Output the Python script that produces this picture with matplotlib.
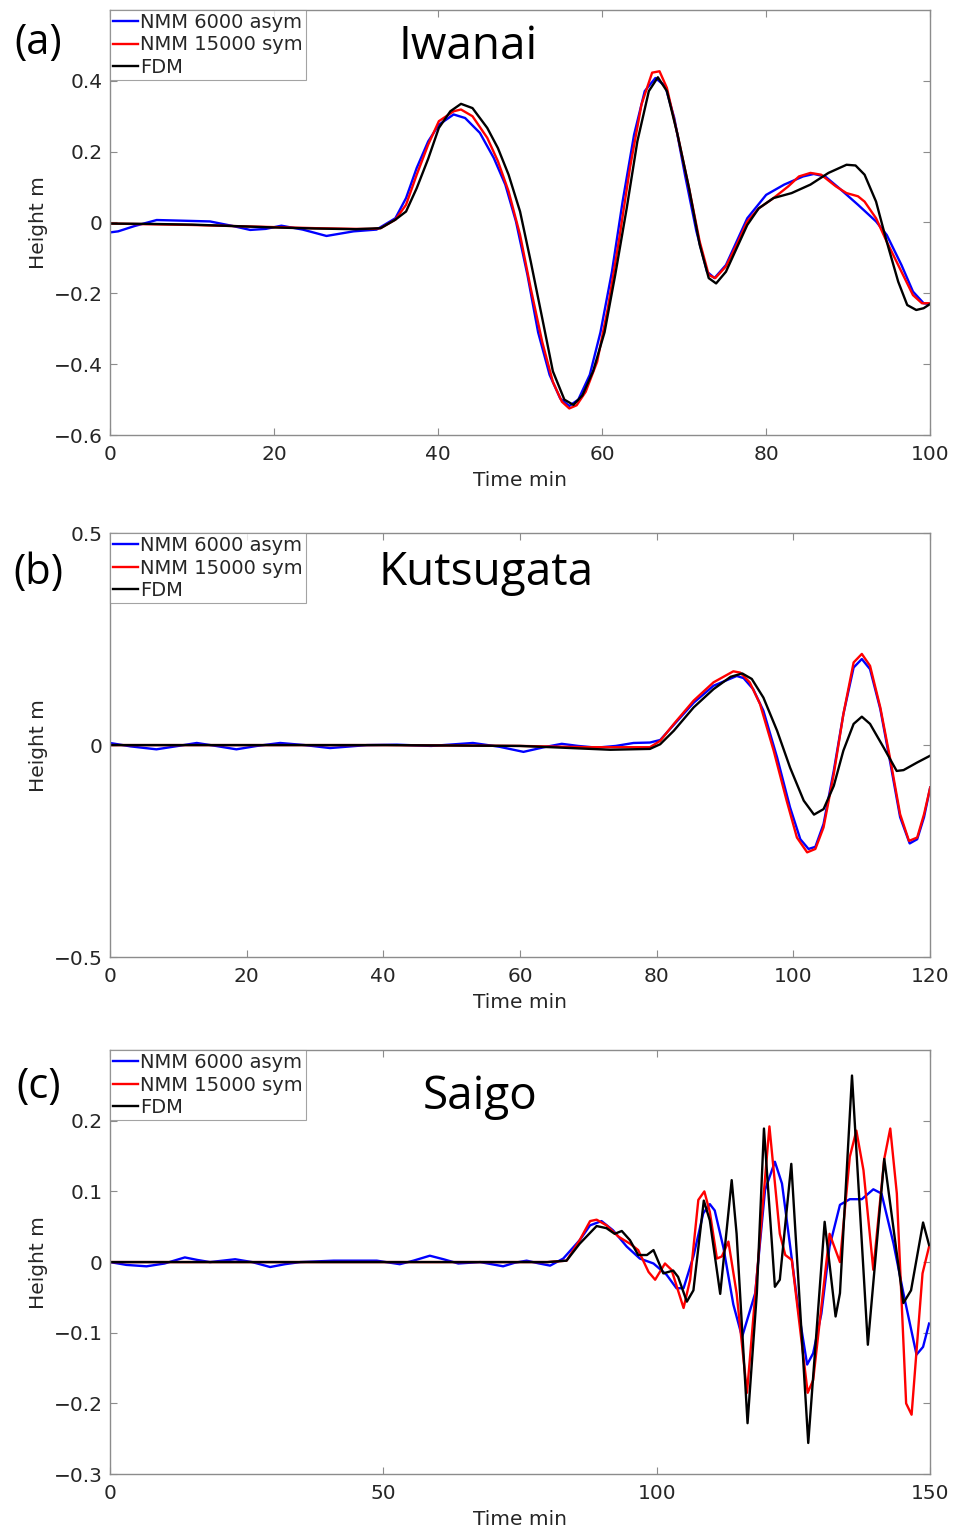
import numpy as np
import matplotlib
matplotlib.use("Agg")
import matplotlib.pyplot as plt

# ---- data (time min, height m) ----
labels = ["NMM 6000 asym", "NMM 15000 sym", "FDM"]
colors = ["#0000ff", "#ff0000", "#000000"]

# (a) Iwanai
a_blue = [(0, -0.028), (1, -0.025), (3, -0.01), (5.7, 0.007), (9, 0.005), (12.2, 0.003), (15, -0.01),
          (17.1, -0.021), (19, -0.018), (20.9, -0.009), (23.5, -0.02), (26.4, -0.038), (29.7, -0.025),
          (32.5, -0.02), (34.8, 0.012), (36.1, 0.069), (37.4, 0.154), (38.8, 0.229), (40.1, 0.276),
          (41.9, 0.305), (43.3, 0.295), (45.1, 0.253), (46.8, 0.182), (48.2, 0.107), (49.5, 0.003),
          (50.9, -0.148), (52.2, -0.31), (53.6, -0.43), (54.9, -0.497), (56, -0.518), (57.1, -0.5),
          (58.5, -0.43), (59.8, -0.31), (61.2, -0.139), (62.5, 0.059), (63.9, 0.248), (65.2, 0.371),
          (66.5, 0.408), (67.7, 0.385), (68.8, 0.295), (70.1, 0.135), (71.5, -0.025), (72.8, -0.139),
          (73.7, -0.157), (75.1, -0.12), (76.4, -0.054), (77.7, 0.012), (80, 0.078), (82.2, 0.107),
          (84.5, 0.13), (85.8, 0.137), (87.2, 0.13), (88.9, 0.097), (91.2, 0.05), (93.4, 0.003),
          (94.7, -0.035), (96.5, -0.12), (97.9, -0.195), (99.2, -0.228), (100, -0.23)]
a_red = [(0, -0.003), (5, -0.005), (10, -0.007), (15, -0.01), (20, -0.013), (25, -0.016), (30, -0.018),
         (32, -0.018), (33, -0.016), (34.8, 0.008), (36.1, 0.05), (37.4, 0.135), (38.8, 0.22), (40.1, 0.286),
         (41.9, 0.314), (42.8, 0.319), (44.2, 0.3), (46, 0.239), (47.3, 0.173), (48.6, 0.088), (50, -0.035),
         (51.3, -0.186), (52.7, -0.337), (54, -0.45), (55.1, -0.506), (56, -0.525), (56.9, -0.516),
         (58, -0.478), (59.4, -0.393), (60.7, -0.242), (62.1, -0.044), (63.4, 0.154), (64.8, 0.333),
         (66.1, 0.423), (67, 0.427), (67.9, 0.38), (69.2, 0.248), (70.6, 0.097), (71.9, -0.054), (73, -0.148),
         (73.8, -0.157), (75.1, -0.124), (76.4, -0.063), (77.7, 0.003), (79.1, 0.04), (80.9, 0.069),
         (82.7, 0.102), (84, 0.13), (85.4, 0.14), (86.7, 0.135), (88.5, 0.102), (89.8, 0.083), (91.2, 0.074),
         (92, 0.059), (93.4, 0.012), (94.7, -0.054), (96.5, -0.139), (97.9, -0.205), (99, -0.228), (100, -0.228)]
a_black = [(0, -0.003), (5, -0.004), (10, -0.006), (15, -0.01), (20, -0.014), (25, -0.017), (30, -0.019),
           (33, -0.016), (34.8, 0.008), (36.1, 0.031), (37.4, 0.097), (38.8, 0.18), (40.1, 0.267), (41.5, 0.314),
           (42.8, 0.335), (44.2, 0.323), (46, 0.267), (47.3, 0.21), (48.6, 0.135), (50, 0.031), (51.3, -0.11),
           (52.7, -0.27), (54, -0.42), (55.4, -0.5), (56.5, -0.515), (57.6, -0.488), (58.9, -0.42),
           (60.3, -0.31), (61.6, -0.148), (63, 0.04), (64.3, 0.229), (65.7, 0.371), (66.8, 0.41), (67.9, 0.371),
           (69.2, 0.248), (70.6, 0.097), (71.9, -0.063), (73, -0.157), (73.9, -0.172), (75.1, -0.139),
           (76.4, -0.073), (77.7, -0.007), (79.1, 0.04), (80.9, 0.069), (83.1, 0.083), (85.4, 0.107),
           (87.6, 0.14), (89.8, 0.163), (90.9, 0.161), (92, 0.135), (93.4, 0.059), (94.7, -0.054),
           (96.1, -0.167), (97.2, -0.233), (98.3, -0.247), (99.2, -0.242), (100, -0.23)]

# (b) Kutsugata
b_blue = [(0, 0.005), (3, -0.003), (6.8, -0.01), (10, -0.002), (12.7, 0.005), (15.5, -0.002), (18.5, -0.01),
          (21.5, -0.002), (24.9, 0.005), (28.5, 0), (32.2, -0.007), (37.6, 0), (42, 0.001), (47, -0.002),
          (53.1, 0.005), (57, -0.004), (60.5, -0.016), (63.5, -0.005), (66.1, 0.003), (68.5, -0.002),
          (71.2, -0.006), (74, -0.002), (76.6, 0.005), (79, 0.006), (80.5, 0.012), (82.5, 0.048), (85.4, 0.1),
          (88.3, 0.14), (91.7, 0.163), (92.7, 0.158), (94.1, 0.132), (95.6, 0.081), (97.6, -0.029),
          (99.5, -0.147), (101, -0.222), (102.2, -0.245), (103.2, -0.24), (104.4, -0.186), (105.9, -0.06),
          (107.3, 0.073), (108.8, 0.183), (110, 0.203), (111.2, 0.179), (112.7, 0.085), (114.2, -0.045),
          (115.6, -0.17), (117, -0.232), (118.1, -0.222), (119.1, -0.17), (120, -0.1)]
b_red = [(0, 0), (20, 0), (40, 0), (60, -0.002), (70, -0.005), (79, -0.005), (80.5, 0.01), (82.5, 0.05),
         (85.4, 0.105), (88.3, 0.148), (91.2, 0.174), (92.2, 0.171), (93.6, 0.148), (95.1, 0.097),
         (97.1, -0.013), (99, -0.131), (100.5, -0.218), (102, -0.253), (103.2, -0.245), (104.4, -0.194),
         (105.9, -0.068), (107.3, 0.073), (108.8, 0.195), (110, 0.215), (111.2, 0.187), (112.7, 0.089),
         (114.2, -0.037), (115.6, -0.163), (116.9, -0.226), (118.1, -0.218), (119.1, -0.163), (120, -0.1)]
b_black = [(0, 0), (20, 0), (40, 0), (60, -0.002), (66, -0.006), (73.2, -0.011), (79, -0.009), (80.5, 0.002),
           (82.5, 0.034), (85.4, 0.089), (88.3, 0.132), (90.8, 0.161), (92.5, 0.169), (93.9, 0.156),
           (95.6, 0.112), (97.6, 0.034), (99.5, -0.053), (101.5, -0.131), (103, -0.164), (104.4, -0.151),
           (105.9, -0.096), (107.3, -0.013), (108.8, 0.05), (110, 0.067), (111.2, 0.05), (113.2, -0.006),
           (115.1, -0.061), (116.1, -0.059), (118.1, -0.041), (120, -0.025)]

# (c) Saigo
c_blue = [(0, 0), (3, -0.004), (6.7, -0.006), (10, -0.002), (13.7, 0.0066), (16, 0.003), (18.3, 0),
          (22.9, 0.004), (26, 0), (29.3, -0.007), (32, -0.003), (34.8, 0), (40.9, 0.002), (48.8, 0.002),
          (53, -0.003), (55.5, 0.002), (58.5, 0.009), (61, 0.004), (63.7, -0.002), (67.7, 0), (71.9, -0.006),
          (74, -0.001), (76.2, 0.002), (78.5, -0.002), (80.5, -0.005), (82.9, 0.005), (85.9, 0.031),
          (87.8, 0.052), (89.9, 0.058), (92, 0.045), (94.5, 0.022), (96.9, 0.005), (99.4, -0.002),
          (101.8, -0.018), (103.6, -0.037), (104.9, -0.037), (106.7, 0.008), (108.5, 0.069), (109.7, 0.082),
          (110.6, 0.073), (112.2, 0.02), (114, -0.06), (115.6, -0.106), (118, -0.044), (119.8, 0.102),
          (121.6, 0.142), (122.9, 0.111), (124.4, 0.022), (125.9, -0.068), (127.5, -0.145), (128.6, -0.129),
          (130.1, -0.073), (131.6, 0.022), (133.5, 0.081), (135.3, 0.089), (137.5, 0.089), (139.6, 0.103),
          (141.1, 0.097), (143.3, 0.026), (145.1, -0.044), (147.5, -0.131), (148.7, -0.12), (149.8, -0.087)]
c_red = [(0, 0), (20, 0), (40, 0), (60, 0), (80, 0), (83.5, 0.002), (85.9, 0.031), (87.8, 0.058), (89, 0.06),
         (90.8, 0.052), (93, 0.036), (95.1, 0.026), (96.6, 0.017), (98.5, -0.014), (99.7, -0.025),
         (101.5, -0.002), (102.7, -0.011), (104.9, -0.065), (106.1, -0.025), (107.6, 0.088), (108.7, 0.1),
         (109.7, 0.071), (111, 0.005), (111.9, 0.008), (113.1, 0.029), (114.6, -0.044), (116.5, -0.185),
         (118.6, 0.008), (120.6, 0.192), (122.5, 0.04), (123.5, 0.01), (124.7, 0.003), (127.6, -0.185),
         (128.6, -0.167), (131.6, 0.04), (133.5, 0), (135.3, 0.149), (136.5, 0.186), (137.8, 0.13),
         (139.6, -0.011), (141.6, 0.146), (142.7, 0.189), (143.9, 0.097), (145.6, -0.2), (146.6, -0.216),
         (148.6, -0.016), (149.8, 0.022)]
c_black = [(0, 0), (20, 0), (40, 0), (60, 0), (80, 0), (83.5, 0.002), (85.9, 0.026), (89, 0.051), (90.8, 0.048),
           (92.3, 0.04), (93.6, 0.044), (95.1, 0.031), (96.6, 0.01), (98.2, 0.01), (99.4, 0.017),
           (101.2, -0.016), (103, -0.012), (103.9, -0.021), (105.5, -0.056), (106.7, -0.04), (108.6, 0.087),
           (109.7, 0.059), (111.6, -0.045), (113.7, 0.116), (114.6, 0.04), (116.6, -0.228), (118.3, -0.044),
           (119.6, 0.189), (121.6, -0.035), (122.5, -0.025), (124.6, 0.139), (127.7, -0.256), (130.7, 0.057),
           (132.7, -0.077), (133.5, -0.044), (135.7, 0.264), (138.6, -0.117), (141.6, 0.146), (145.1, -0.058),
           (146.5, -0.04), (148.7, 0.056), (149.8, 0.024)]

panels = [
    dict(series=[a_blue, a_red, a_black], name="Iwanai", tag="(a)", xlim=(0, 100), xt=np.arange(0, 101, 20),
         ylim=(-0.6, 0.6), yt=[-0.6, -0.4, -0.2, 0, 0.2, 0.4], ytl=["\u22120.6", "\u22120.4", "\u22120.2", "0", "0.2", "0.4"],
         rect=[0.115, 0.7166, 0.858, 0.2769], title_xy=(0.436, 0.913), tag_y=0.972),
    dict(series=[b_blue, b_red, b_black], name="Kutsugata", tag="(b)", xlim=(0, 120), xt=np.arange(0, 121, 20),
         ylim=(-0.5, 0.5), yt=[-0.5, 0, 0.5], ytl=["\u22120.5", "0", "0.5"],
         rect=[0.115, 0.3765, 0.858, 0.2762], title_xy=(0.458, 0.906), tag_y=0.627),
    dict(series=[c_blue, c_red, c_black], name="Saigo", tag="(c)", xlim=(0, 150), xt=np.arange(0, 151, 50),
         ylim=(-0.3, 0.3), yt=[-0.3, -0.2, -0.1, 0, 0.1, 0.2], ytl=["\u22120.3", "\u22120.2", "\u22120.1", "0", "0.1", "0.2"],
         rect=[0.115, 0.0397, 0.858, 0.2762], title_xy=(0.451, 0.889), tag_y=0.292),
]

fig = plt.figure(figsize=(9.56, 15.35), dpi=100)
txt = "#262626"
edge = "#8c8c8c"

for p in panels:
    ax = fig.add_axes(p["rect"])
    for s, c, lab in zip(p["series"], colors, labels):
        arr = np.array(s)
        ax.plot(arr[:, 0], arr[:, 1], color=c, lw=1.7, label=lab)
    ax.set_xlim(p["xlim"])
    ax.set_ylim(p["ylim"])
    ax.set_xticks(p["xt"])
    ax.set_yticks(p["yt"])
    ax.set_yticklabels(p["ytl"])
    ax.tick_params(direction="in", top=True, right=True, length=5, width=0.8, color=edge,
                   labelsize=14.5, labelcolor=txt)
    ax.tick_params(axis="x", pad=7)
    ax.tick_params(axis="y", pad=5)
    for sp in ax.spines.values():
        sp.set_color(edge)
        sp.set_linewidth(1.0)
    ax.set_xlabel("Time min", fontsize=14.5, color=txt)
    ax.set_ylabel("Height m", fontsize=14.5, color=txt)
    ax.xaxis.set_label_coords(0.5, -0.085)
    ax.yaxis.set_label_coords(-0.075, 0.5)
    leg = ax.legend(loc="upper left", fontsize=14, frameon=True, fancybox=False, borderaxespad=0,
                    handlelength=1.3, handletextpad=0.1, labelspacing=0.18, borderpad=0.15)
    leg.get_frame().set_edgecolor(edge)
    leg.get_frame().set_linewidth(0.8)
    for t in leg.get_texts():
        t.set_color(txt)
    ax.text(p["title_xy"][0], p["title_xy"][1], p["name"], transform=ax.transAxes, ha="center", va="center",
            fontsize=33, family="Open Sans")
    fig.text(0.04, p["tag_y"], p["tag"], ha="center", va="center", fontsize=30, family="Open Sans")

fig.savefig("out.png", dpi=100)
